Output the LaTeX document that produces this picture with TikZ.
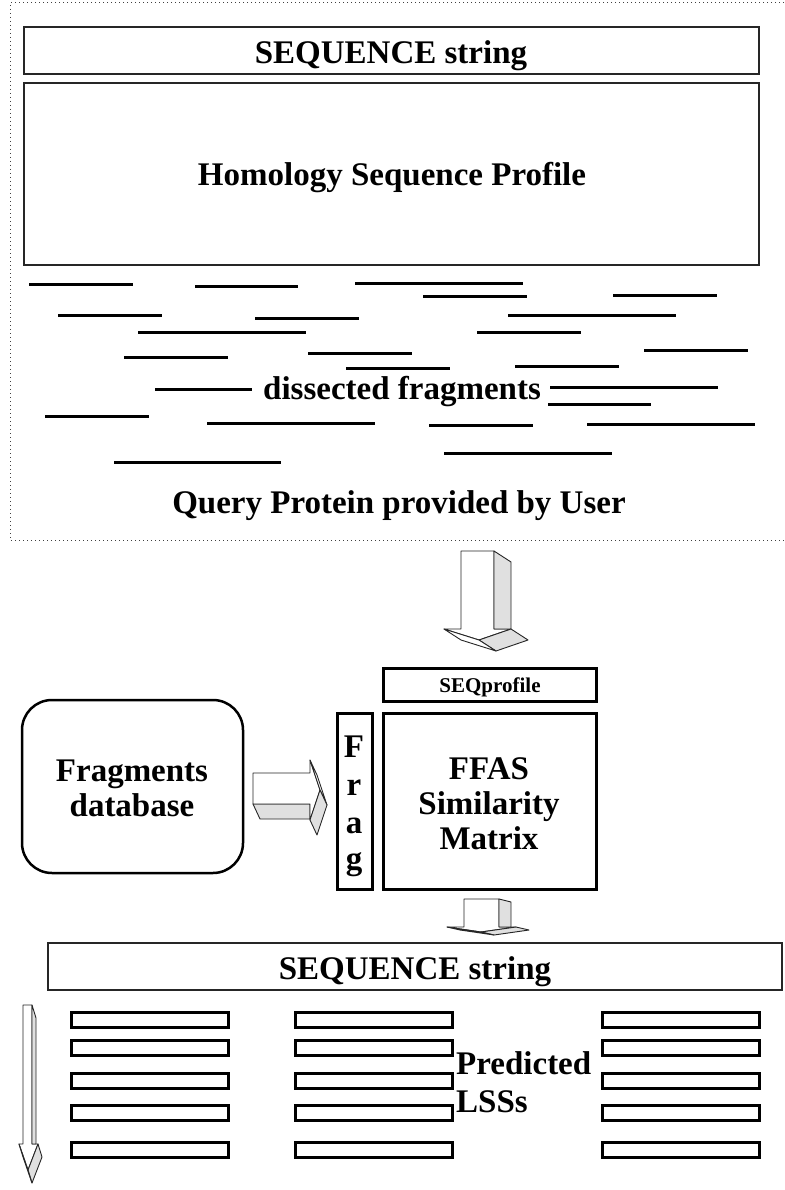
\documentclass[tikz,border=0pt]{standalone}
\usepackage{fontspec}
\setmainfont{Liberation Serif}
\begin{document}
\begin{tikzpicture}[x=1pt,y=-1pt,
  lbl/.style={font=\fontsize{33}{36}\selectfont\bfseries, inner sep=0pt, anchor=base},
  smalllbl/.style={font=\fontsize{21}{24}\selectfont\bfseries, inner sep=0pt, anchor=base},
  boxnode/.style={anchor=north west, outer sep=0pt, inner sep=0pt},
  thinbox/.style={boxnode, draw=black!85, line width=1.4pt},
  thickbox/.style={boxnode, draw=black, line width=3pt},
  lssbox/.style={boxnode, draw=black, line width=3pt, minimum width=157pt, minimum height=15pt},
  frag/.style={line width=3pt},
  face/.style={draw=black!85, line width=0.9pt, fill=white, line join=round},
  shade/.style={draw=black!85, line width=0.9pt, fill=black!12, line join=round}]
\useasboundingbox (0,0) rectangle (784,1190);
\fill[white] (0,0) rectangle (784,1190);

% dotted frame of the query panel
\draw[black!75, line width=1pt, dash pattern=on 1pt off 3pt] (792,3) -- (10,3) -- (10,540) -- (792,540);

% top boxes
\node[thinbox, minimum width=735pt, minimum height=47pt] (seqtop) at (24,27) {};
\node[lbl] (seqtoptxt) at (391,64) {SEQUENCE string};
\node[thinbox, minimum width=735pt, minimum height=182pt] (homol) at (24,83) {};
\node[lbl] (homoltxt) at (392,186) {Homology Sequence Profile};

% dissected fragments
\draw[frag] (29,284) -- (133,284);
\draw[frag] (195,286) -- (298,286);
\draw[frag] (355,283) -- (523,283);
\draw[frag] (423,296) -- (527,296);
\draw[frag] (613,295) -- (717,295);
\draw[frag] (58,315) -- (162,315);
\draw[frag] (255,318) -- (359,318);
\draw[frag] (508,315) -- (676,315);
\draw[frag] (138,332) -- (306,332);
\draw[frag] (477,332) -- (581,332);
\draw[frag] (124,357) -- (228,357);
\draw[frag] (308,353) -- (412,353);
\draw[frag] (644,350) -- (748,350);
\draw[frag] (346,368) -- (450,368);
\draw[frag] (515,366) -- (619,366);
\draw[frag] (155,389) -- (252,389);
\draw[frag] (550,387) -- (718,387);
\draw[frag] (548,404) -- (651,404);
\draw[frag] (45,416) -- (149,416);
\draw[frag] (207,423) -- (375,423);
\draw[frag] (429,425) -- (533,425);
\draw[frag] (587,424) -- (755,424);
\draw[frag] (444,453) -- (612,453);
\draw[frag] (114,462) -- (281,462);
\node[lbl] (disstxt) at (402,399) {dissected fragments};
\node[lbl] (querytxt) at (399,513) {Query Protein provided by User};

% big 3D arrow down
\filldraw[face] (461,551) -- (494,551) -- (494,629) -- (511,629) -- (479,640) -- (444,629) -- (461,629) -- cycle;
\filldraw[shade] (494,551) -- (511,562) -- (511,629) -- (494,629) -- cycle;
\filldraw[shade] (511,629) -- (528,640) -- (496,651) -- (479,640) -- cycle;
\filldraw[face] (444,629) -- (461,640) -- (496,651) -- (479,640) -- cycle;

% SEQprofile, Frag, FFAS
\node[thickbox, minimum width=213pt, minimum height=33pt] (seqprof) at (383,668) {};
\node[smalllbl] (seqproftxt) at (490,692) {SEQprofile};
\node[thickbox, minimum width=35pt, minimum height=176pt] (fragbox) at (337,713) {};
\node[lbl] (fragF) at (354,757) {F};
\node[lbl] (fragr) at (354,795) {r};
\node[lbl] (fraga) at (354,833) {a};
\node[lbl] (fragg) at (354,869) {g};
\node[thickbox, minimum width=213pt, minimum height=176pt] (ffas) at (383,713) {};
\node[lbl] (ffas1) at (489,779) {FFAS};
\node[lbl] (ffas2) at (489,814) {Similarity};
\node[lbl] (ffas3) at (489,849) {Matrix};

% fragments database
\node[boxnode, draw=black, line width=2.5pt, rounded corners=30pt, minimum width=221pt, minimum height=173pt] (db) at (22,700) {};
\node[lbl] (db1) at (132,781) {Fragments};
\node[lbl] (db2) at (132,816) {database};

% 3D arrow right
\filldraw[shade] (253,804) -- (260,819) -- (310,819) -- (310,804) -- cycle;
\filldraw[face] (253,773) -- (310,773) -- (310,760) -- (320,790) -- (310,820) -- (310,804) -- (253,804) -- cycle;
\filldraw[face] (310,760) -- (320,790) -- (327,805) -- (317,775) -- cycle;
\filldraw[shade] (320,790) -- (310,820) -- (317,835) -- (327,805) -- cycle;

% small 3D arrow down
\filldraw[face] (464,899) -- (499,899) -- (499,927) -- (516,927) -- (481,932) -- (447,927) -- (464,927) -- cycle;
\filldraw[shade] (499,899) -- (511,902) -- (511,927) -- (499,927) -- cycle;
\filldraw[shade] (516,927) -- (529,930) -- (494,935) -- (481,932) -- cycle;
\filldraw[face] (447,927) -- (460,930) -- (494,935) -- (481,932) -- cycle;

% bottom sequence string
\node[thinbox, minimum width=734pt, minimum height=47pt] (seqbot) at (48,943) {};
\node[lbl] (seqbottxt) at (415,979) {SEQUENCE string};

% thin 3D arrow at left
\filldraw[face] (23,1005) -- (32,1005) -- (32,1144) -- (38,1144) -- (28,1170) -- (19,1144) -- (23,1144) -- cycle;
\filldraw[shade] (32,1005) -- (36,1018) -- (36,1144) -- (32,1144) -- cycle;
\filldraw[shade] (38,1144) -- (42,1157) -- (32,1183) -- (28,1170) -- cycle;
\filldraw[face] (19,1144) -- (23,1157) -- (32,1183) -- (28,1170) -- cycle;

% predicted LSS boxes
\foreach \c/\x in {a/71, b/295, c/602}{
  \foreach \r/\y in {1/1012, 2/1040, 3/1073, 4/1105, 5/1142}{
    \node[lssbox] (lss\c\r) at (\x,\y) {};
  }
}
\node[lbl, anchor=base west] (pred1) at (456,1074) {Predicted};
\node[lbl, anchor=base west] (pred2) at (456,1112) {LSSs};
\end{tikzpicture}
\end{document}
